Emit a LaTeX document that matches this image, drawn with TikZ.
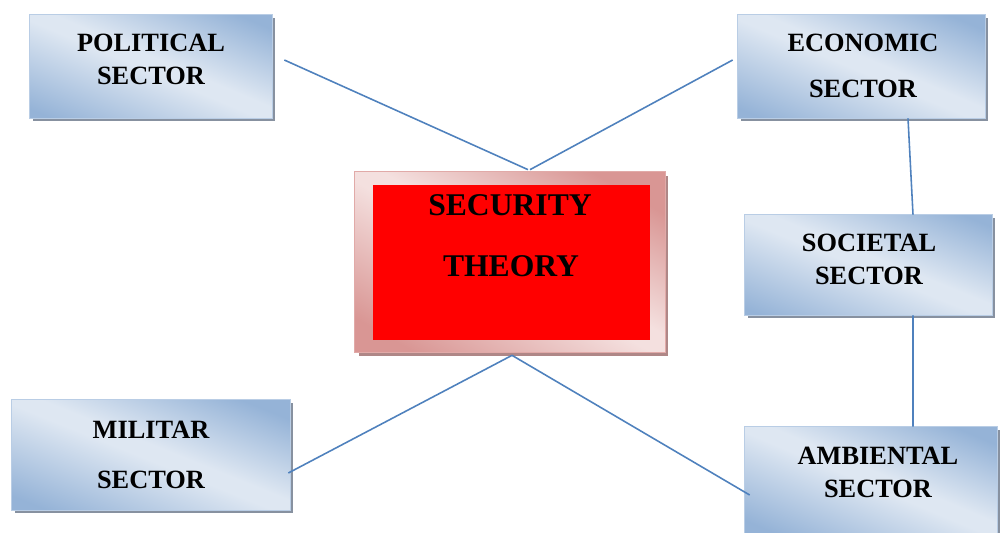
\documentclass[tikz,border=0pt]{standalone}
\usepackage{fontspec}
\setmainfont{Liberation Serif}
\usetikzlibrary{calc}
\definecolor{bdark}{RGB}{149,179,215}
\definecolor{blight}{RGB}{222,231,242}
\definecolor{bedge}{RGB}{185,205,229}
\definecolor{pdark}{RGB}{217,150,148}
\definecolor{plight}{RGB}{244,224,223}
\definecolor{pedge}{RGB}{225,170,168}
\definecolor{shadowc}{RGB}{135,145,160}
\definecolor{pshadowc}{RGB}{175,135,135}
\definecolor{linec}{RGB}{79,129,189}
\definecolor{redfill}{RGB}{255,0,0}
\pgfdeclarehorizontalshading{blueshade}{100bp}{color(0bp)=(bdark); color(32bp)=(bdark); color(49bp)=(blight); color(52bp)=(blight); color(67bp)=(bdark); color(100bp)=(bdark)}
\pgfdeclarehorizontalshading{pinkshade}{100bp}{color(0bp)=(pdark); color(32bp)=(pdark); color(49bp)=(plight); color(52bp)=(plight); color(67bp)=(pdark); color(100bp)=(pdark)}
\tikzset{
  sectorbox/.style={fill=bdark, preaction={fill=shadowc, transform canvas={xshift=1.8pt, yshift=-1.8pt}}, inner sep=0pt},
  secbox/.style={fill=pdark, preaction={fill=pshadowc, transform canvas={xshift=2pt, yshift=-2.5pt}}, inner sep=0pt},
  redbox/.style={fill=redfill, inner sep=0pt},
  sectortext/.style={font=\fontsize{15}{18}\selectfont\bfseries, inner sep=0pt},
  sectext/.style={font=\fontsize{18}{21}\selectfont\bfseries, inner sep=0pt},
  conn/.style={draw=linec, line width=0.9pt}
}
% #1 node, #2 shading, #3 edge colour, #4 angle, #5 half-width of gradient
\newcommand{\glossbox}[5]{%
  \begin{scope}
    \clip (#1.south west) rectangle (#1.north east);
    \shade[shading=#2, transform canvas={rotate around={#4:(#1.center)}}]
      ($(#1.center)+(-#5,-320)$) rectangle ($(#1.center)+(#5,320)$);
  \end{scope}
  \draw[draw=#3, line width=0.6pt] (#1.south west) rectangle (#1.north east);
}
\begin{document}
\begin{tikzpicture}[x=0.02cm,y=-0.02cm]
\useasboundingbox (0,0) rectangle (1000,533);
% boxes
\node[sectorbox, minimum width=4.84cm, minimum height=2.06cm] (pol) at (151,66.5) {};
\glossbox{pol}{blueshade}{bedge}{67}{120}
\node[sectorbox, minimum width=4.94cm, minimum height=2.06cm] (eco) at (861.5,66.5) {};
\glossbox{eco}{blueshade}{bedge}{67}{120}
\node[sectorbox, minimum width=4.94cm, minimum height=2.0cm] (soc) at (868.5,265) {};
\glossbox{soc}{blueshade}{bedge}{68}{120}
\node[sectorbox, minimum width=5.56cm, minimum height=2.2cm] (mil) at (151,455) {};
\glossbox{mil}{blueshade}{bedge}{68}{125}
\node[sectorbox, minimum width=5.04cm, minimum height=2.12cm] (amb) at (871,480) {};
\glossbox{amb}{blueshade}{bedge}{67}{120}
\node[secbox, minimum width=6.2cm, minimum height=3.6cm] (sec) at (510,262) {};
\glossbox{sec}{pinkshade}{pedge}{60}{175}
\node[redbox, minimum width=5.54cm, minimum height=3.1cm] (secin) at (511.5,262.5) {};
% texts
\node[sectortext] (polA) at (151,43) {POLITICAL};
\node[sectortext] (polB) at (151,76) {SECTOR};
\node[sectortext] (ecoA) at (863,43) {ECONOMIC};
\node[sectortext] (ecoB) at (863,89) {SECTOR};
\node[sectortext] (socA) at (869,243) {SOCIETAL};
\node[sectortext] (socB) at (869,276) {SECTOR};
\node[sectortext] (milA) at (151,430) {MILITAR};
\node[sectortext] (milB) at (151,480) {SECTOR};
\node[sectortext] (ambA) at (878,456) {AMBIENTAL};
\node[sectortext] (ambB) at (878,489) {SECTOR};
\node[sectext] (secA) at (510,205) {SECURITY};
\node[sectext] (secB) at (511,266) {THEORY};
% connectors
\draw[conn] ($(pol.east)+(12,-6.5)$) -- ($(sec.north)+(18,-2)$);
\draw[conn] ($(eco.west)+(-5,-6.5)$) -- ($(sec.north)+(20,-2)$);
\draw[conn] ($(eco.south)+(46.5,0)$) -- ($(soc.north)+(44.5,0)$);
\draw[conn] ($(soc.south)+(44.5,0)$) -- ($(amb.north)+(42,0)$);
\draw[conn] ($(sec.south)+(2,3)$) -- ($(mil.east)+(-2,18)$);
\draw[conn] ($(sec.south)+(2,3)$) -- ($(amb.west)+(5,15)$);
\end{tikzpicture}
\end{document}
